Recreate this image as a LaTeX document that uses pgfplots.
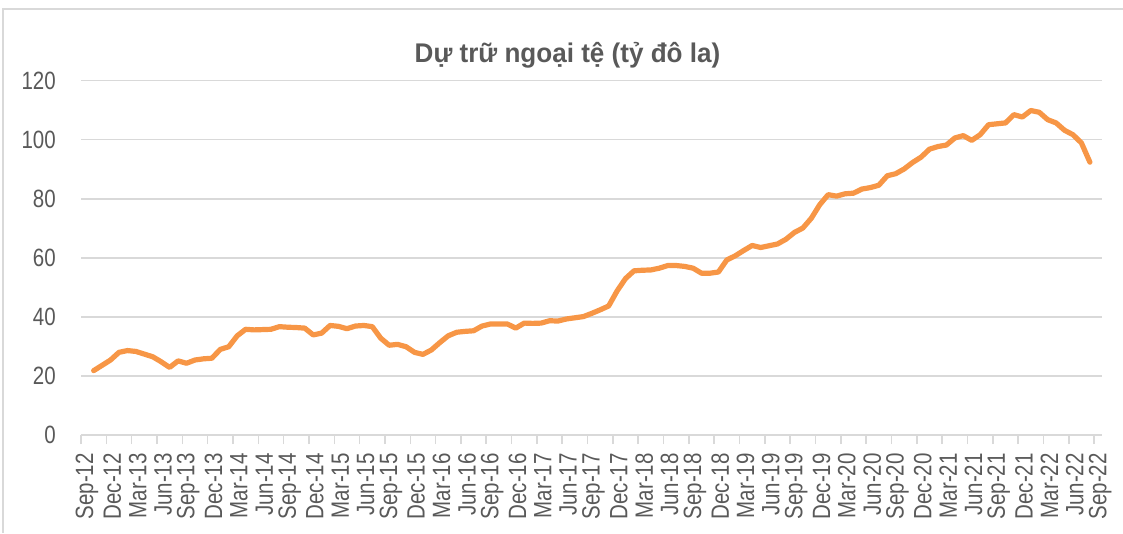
\documentclass[border=0pt]{standalone}
\usepackage{pgfplots}
\pgfplotsset{compat=1.18}
\usepackage{fontspec}
\setmainfont{Liberation Sans}[FakeStretch=0.82]
\newfontfamily\titlefont{Liberation Sans}[FakeStretch=0.965]
\definecolor{gridc}{HTML}{D9D9D9}
\definecolor{txtc}{HTML}{595959}
\definecolor{linec}{HTML}{F79646}
\begin{document}
\begin{tikzpicture}
\path[use as bounding box] (0,0) rectangle (1123pt,533pt);
\draw[gridc, line width=2pt] (3pt,0) -- (3pt,524pt) -- (1123pt,524pt);
\node[anchor=base, text=txtc, font=\titlefont\fontsize{27}{30}\selectfont\bfseries] at (567.5pt,470pt) {Dự trữ ngoại tệ (tỷ đô la)};
\begin{axis}[
  at={(81pt,98pt)}, anchor=south west,
  scale only axis, width=1020.7pt, height=354.3pt,
  xmin=0, xmax=120.9, ymin=0, ymax=120,
  separate axis lines,
  axis x line*=bottom, axis y line*=left,
  x axis line style={gridc, line width=1.5pt},
  y axis line style={draw=none},
  ytick={0,20,...,120},
  ymajorgrids, grid style={gridc, line width=1.5pt},
  ytick style={draw=none},
  xtick={0,3,...,120},
  xticklabels={Sep-12,Dec-12,Mar-13,Jun-13,Sep-13,Dec-13,Mar-14,Jun-14,Sep-14,Dec-14,Mar-15,Jun-15,Sep-15,Dec-15,Mar-16,Jun-16,Sep-16,Dec-16,Mar-17,Jun-17,Sep-17,Dec-17,Mar-18,Jun-18,Sep-18,Dec-18,Mar-19,Jun-19,Sep-19,Dec-19,Mar-20,Jun-20,Sep-20,Dec-20,Mar-21,Jun-21,Sep-21,Dec-21,Mar-22,Jun-22,Sep-22},
  tick align=outside, major tick length=9pt,
  xtick style={gridc, line width=1.5pt},
  /pgf/number format/assume math mode=true,
  ticklabel style={font=\fontsize{25}{28}\selectfont, text=txtc},
  xticklabel style={rotate=90, anchor=east, inner sep=0pt, xshift=-9pt, yshift=-6pt},
  yticklabel style={anchor=east, inner sep=0pt, xshift=-16pt},
]
\addplot[linec, line width=5.2pt, line cap=round, line join=round] table {
x y
1.5 21.8
2.5 23.6
3.5 25.4
4.5 28.0
5.5 28.6
6.5 28.3
7.5 27.4
8.5 26.5
9.5 24.8
10.5 22.9
11.5 25.1
12.5 24.3
13.5 25.4
14.5 25.8
15.5 26.0
16.5 29.0
17.5 29.9
18.5 33.6
19.5 35.8
20.5 35.6
21.5 35.7
22.5 35.8
23.5 36.7
24.5 36.5
25.5 36.4
26.5 36.2
27.5 33.9
28.5 34.5
29.5 37.1
30.5 36.8
31.5 36.0
32.5 36.9
33.5 37.1
34.5 36.7
35.5 32.8
36.5 30.4
37.5 30.7
38.5 29.9
39.5 28.0
40.5 27.3
41.5 28.8
42.5 31.3
43.5 33.6
44.5 34.8
45.5 35.1
46.5 35.3
47.5 36.9
48.5 37.6
49.5 37.6
50.5 37.6
51.5 36.2
52.5 37.9
53.5 37.8
54.5 37.9
55.5 38.7
56.5 38.6
57.5 39.3
58.5 39.7
59.5 40.1
60.5 41.2
61.5 42.4
62.5 43.7
63.5 48.8
64.5 53.0
65.5 55.6
66.5 55.8
67.5 55.9
68.5 56.5
69.5 57.4
70.5 57.4
71.5 57.1
72.5 56.5
73.5 54.8
74.5 54.8
75.5 55.2
76.5 59.3
77.5 60.7
78.5 62.5
79.5 64.2
80.5 63.5
81.5 64.1
82.5 64.7
83.5 66.3
84.5 68.6
85.5 70.1
86.5 73.4
87.5 78.0
88.5 81.4
89.5 80.9
90.5 81.7
91.5 81.9
92.5 83.3
93.5 83.8
94.5 84.6
95.5 87.8
96.5 88.5
97.5 90.1
98.5 92.3
99.5 94.1
100.5 96.8
101.5 97.7
102.5 98.2
103.5 100.6
104.5 101.4
105.5 99.8
106.5 101.7
107.5 105.1
108.5 105.4
109.5 105.7
110.5 108.5
111.5 107.7
112.5 109.9
113.5 109.3
114.5 106.8
115.5 105.7
116.5 103.2
117.5 101.7
118.5 98.9
119.5 92.4
};
\end{axis}
\end{tikzpicture}
\end{document}
